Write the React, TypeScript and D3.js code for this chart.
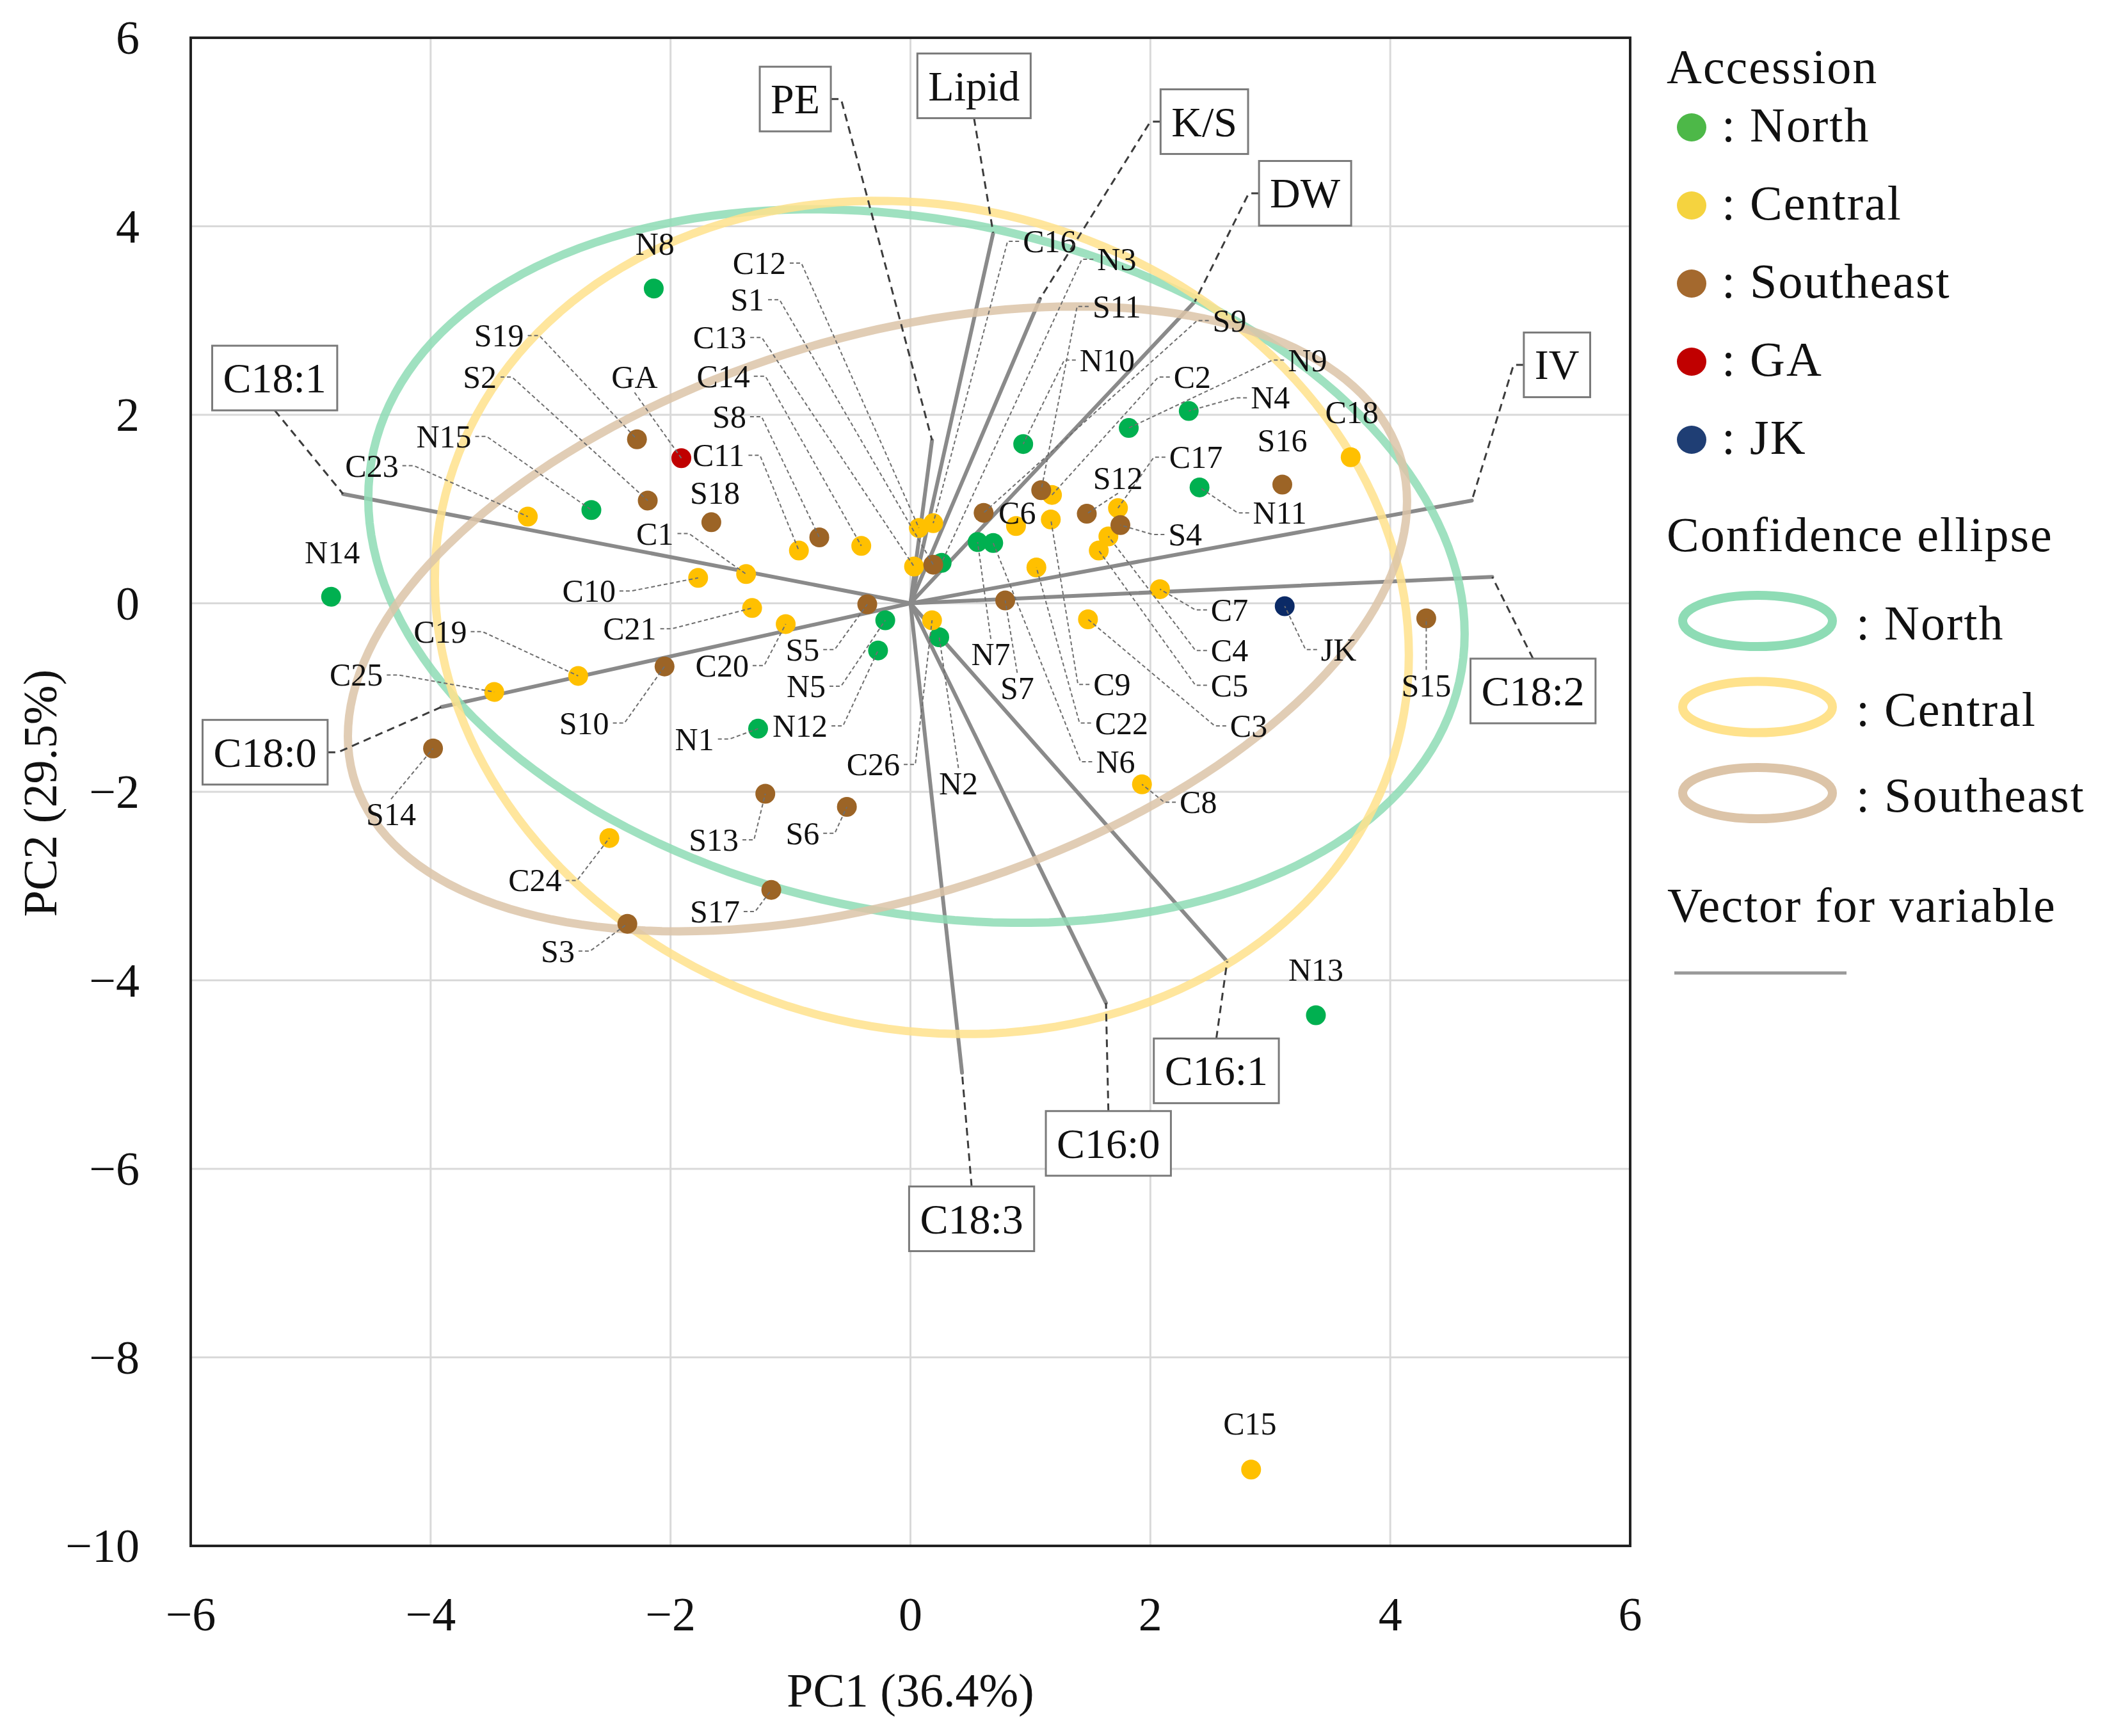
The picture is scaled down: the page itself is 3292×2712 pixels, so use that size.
import React, { useEffect, useRef } from "react";
import * as d3 from "d3";

// ---------- data ----------
const xTicks = [-6, -4, -2, 0, 2, 4, 6];
const yTicks = [-10, -8, -6, -4, -2, 0, 2, 4, 6];
const xTitle = "PC1 (36.4%)";
const yTitle = "PC2 (29.5%)";

const northPoints: [string, number, number][] = [
  ["N1", -1.27, -1.33], ["N2", 0.24, -0.36], ["N3", 0.26, 0.43], ["N4", 2.32, 2.04],
  ["N5", -0.21, -0.18], ["N6", 0.69, 0.64], ["N7", 0.56, 0.65], ["N8", -2.14, 3.34],
  ["N9", 1.82, 1.86], ["N10", 0.94, 1.69], ["N11", 2.41, 1.23], ["N12", -0.27, -0.5],
  ["N13", 3.38, -4.37], ["N14", -4.83, 0.07], ["N15", -2.66, 0.99],
];
const centralPoints: [string, number, number][] = [
  ["C1", -1.37, 0.31], ["C2", 1.18, 1.15], ["C3", 1.48, -0.17], ["C4", 1.65, 0.71],
  ["C5", 1.57, 0.56], ["C6", 0.88, 0.82], ["C7", 2.08, 0.15], ["C8", 1.93, -1.92],
  ["C9", 1.17, 0.89], ["C10", -1.77, 0.27], ["C11", -0.93, 0.56], ["C12", 0.07, 0.8],
  ["C13", 0.03, 0.39], ["C14", -0.41, 0.61], ["C15", 2.84, -9.19], ["C16", 0.19, 0.85],
  ["C17", 1.73, 1.01], ["C18", 3.67, 1.55], ["C19", -2.77, -0.77], ["C20", -1.04, -0.22],
  ["C21", -1.32, -0.05], ["C22", 1.05, 0.38], ["C23", -3.19, 0.92], ["C24", -2.51, -2.49],
  ["C25", -3.47, -0.94], ["C26", 0.18, -0.18],
];
const southeastPoints: [string, number, number][] = [
  ["S1", 0.19, 0.41], ["S2", -2.19, 1.09], ["S3", -2.36, -3.4], ["S4", 1.75, 0.83],
  ["S5", -0.36, -0.01], ["S6", -0.53, -2.16], ["S7", 0.79, 0.03], ["S8", -0.76, 0.7],
  ["S9", 0.61, 0.96], ["S10", -2.05, -0.67], ["S11", 1.09, 1.2], ["S12", 1.47, 0.95],
  ["S13", -1.21, -2.02], ["S14", -3.98, -1.54], ["S15", 4.3, -0.16], ["S16", 3.1, 1.26],
  ["S17", -1.16, -3.04], ["S18", -1.66, 0.86], ["S19", -2.28, 1.74],
];
const gaPoints: [string, number, number][] = [["GA", -1.91, 1.54]];
const jkPoints: [string, number, number][] = [["JK", 3.12, -0.03]];

const vectorNames = ["C18:1", "C18:0", "PE", "Lipid", "K/S", "DW", "IV", "C18:2", "C16:1", "C16:0", "C18:3"];
const vectorX = [-4.73, -3.91, 0.18, 0.69, 1.08, 2.37, 4.68, 4.85, 2.64, 1.63, 0.43];
const vectorY = [1.16, -1.1, 1.73, 3.93, 3.23, 3.2, 1.09, 0.28, -3.8, -4.24, -4.98];

const ellipseGroups = ["North", "Central", "Southeast"];
const ellipseCenterX = [0.05, 0.095, -0.275];
const ellipseCenterY = [0.395, -0.15, -0.165];
const ellipseHalfX = [4.57, 4.06, 4.415];
const ellipseHalfY = [3.785, 4.42, 3.315];
const ellipseCorr = [-0.19, -0.09, 0.376];

const legendGroups = ["North", "Central", "Southeast", "GA", "JK"];

// ---------- layout (label placement, in data units) ----------
const pointLabelPlace: Record<string, [number, number, string]> = {
  N1: [-1.8, -1.44, "r"], N2: [0.4, -1.91, "t"], N3: [1.72, 3.65, "l"], N4: [3.0, 2.18, "l"],
  N5: [-0.87, -0.88, "r"], N6: [1.71, -1.68, "l"], N7: [0.67, -0.54, "t"], N8: [-2.13, 3.81, "n"],
  N9: [3.31, 2.58, "l"], N10: [1.64, 2.58, "l"], N11: [3.08, 0.96, "l"], N12: [-0.92, -1.3, "r"],
  N13: [3.38, -3.89, "n"], N14: [-4.82, 0.54, "n"], N15: [-3.89, 1.77, "r"],
  C1: [-2.13, 0.74, "r"], C2: [2.35, 2.4, "l"], C3: [2.82, -1.3, "l"], C4: [2.66, -0.5, "l"],
  C5: [2.66, -0.87, "l"], C6: [0.89, 0.96, "n"], C7: [2.66, -0.07, "l"], C8: [2.4, -2.11, "l"],
  C9: [1.68, -0.86, "l"], C10: [-2.68, 0.13, "r"], C11: [-1.6, 1.57, "r"], C12: [-1.26, 3.61, "r"],
  C13: [-1.59, 2.82, "r"], C14: [-1.56, 2.41, "r"], C15: [2.83, -8.7, "n"], C16: [1.16, 3.84, "l"],
  C17: [2.38, 1.55, "l"], C18: [3.68, 2.03, "n"], C19: [-3.92, -0.3, "r"], C20: [-1.57, -0.66, "r"],
  C21: [-2.34, -0.27, "r"], C22: [1.76, -1.27, "l"], C23: [-4.49, 1.46, "r"], C24: [-3.13, -2.94, "r"],
  C25: [-4.62, -0.76, "r"], C26: [-0.31, -1.71, "r"],
  S1: [-1.36, 3.22, "r"], S2: [-3.59, 2.4, "r"], S3: [-2.94, -3.69, "r"], S4: [2.29, 0.73, "l"],
  S5: [-0.9, -0.49, "r"], S6: [-0.9, -2.44, "r"], S7: [0.89, -0.9, "t"], S8: [-1.51, 1.98, "r"],
  S9: [2.66, 3.0, "l"], S10: [-2.72, -1.27, "r"], S11: [1.72, 3.15, "l"], S12: [1.73, 1.33, "b"],
  S13: [-1.64, -2.51, "r"], S14: [-4.33, -2.24, "t"], S15: [4.3, -0.87, "t"], S16: [3.1, 1.73, "n"],
  S17: [-1.63, -3.27, "r"], S18: [-1.63, 1.17, "n"], S19: [-3.43, 2.84, "r"],
  GA: [-2.3, 2.4, "b"], JK: [3.57, -0.49, "l"],
};
const vectorLabelPlace: [number, number, string][] = [
  [-5.3, 2.39, "b"], [-5.38, -1.58, "r"], [-0.96, 5.35, "r"], [0.53, 5.49, "b"],
  [2.45, 5.11, "l"], [3.29, 4.35, "l"], [5.39, 2.53, "l"], [5.19, -0.93, "t"],
  [2.55, -4.96, "t"], [1.65, -5.73, "t"], [0.51, -6.53, "t"],
];

const pointColors: Record<string, string> = {
  North: "#00B050", Central: "#FFC000", Southeast: "#9C6426", GA: "#C00000", JK: "#0B2A66",
};
const legendDotColors: Record<string, string> = {
  North: "#4DB848", Central: "#F5D33F", Southeast: "#A4692E", GA: "#C00000", JK: "#1F3E74",
};
const ellipseColors: Record<string, string> = {
  North: "#8EDCB5", Central: "#FFE28C", Southeast: "#DCC4A8",
};

const FONT = "'Liberation Serif', 'Times New Roman', serif";

export default function App() {
  const ref = useRef<SVGSVGElement>(null);

  useEffect(() => {
    const svg = d3.select(ref.current);
    svg.selectAll("*").remove();
    const L = 298, R = 2547, T = 59, B = 2415;
    const x = d3.scaleLinear().domain([-6, 6]).range([L, R]);
    const y = d3.scaleLinear().domain([-10, 6]).range([B, T]);
    const fmt = d3.format("d");

    svg.append("rect").attr("width", 3292).attr("height", 2712).attr("fill", "#fff");

    // grid
    const grid = svg.append("g");
    grid.selectAll("line.gx").data(xTicks.slice(1, -1)).join("line")
      .attr("x1", (d) => x(d)).attr("x2", (d) => x(d)).attr("y1", T).attr("y2", B)
      .attr("stroke", "#d9d9d9").attr("stroke-width", 3);
    grid.selectAll("line.gy").data(yTicks.slice(1, -1)).join("line")
      .attr("y1", (d) => y(d)).attr("y2", (d) => y(d)).attr("x1", L).attr("x2", R)
      .attr("stroke", "#d9d9d9").attr("stroke-width", 3);

    // vectors
    const vec = svg.append("g");
    vectorNames.forEach((_, i) => {
      vec.append("line")
        .attr("x1", x(0)).attr("y1", y(0))
        .attr("x2", x(vectorX[i])).attr("y2", y(vectorY[i]))
        .attr("stroke", "#8a8a8a").attr("stroke-width", 6).attr("stroke-linecap", "round");
    });

    // ellipses
    const eg = svg.append("g");
    ellipseGroups.forEach((grp, i) => {
      const r = ellipseCorr[i];
      const s = Math.sqrt(1 - r * r);
      const pts: [number, number][] = d3.range(0, 360, 2).map((deg) => {
        const t = (deg * Math.PI) / 180;
        const px = ellipseCenterX[i] + ellipseHalfX[i] * Math.cos(t);
        const py = ellipseCenterY[i] + ellipseHalfY[i] * (r * Math.cos(t) + s * Math.sin(t));
        return [x(px), y(py)];
      });
      eg.append("path")
        .attr("d", d3.line().curve(d3.curveLinearClosed)(pts) as string)
        .attr("fill", "none").attr("stroke", ellipseColors[grp])
        .attr("stroke-width", 13).attr("stroke-opacity", 0.85);
    });

    // points
    const groups: [string, [string, number, number][]][] = [
      ["North", northPoints], ["Central", centralPoints], ["Southeast", southeastPoints],
      ["GA", gaPoints], ["JK", jkPoints],
    ];
    const pg = svg.append("g");
    groups.forEach(([grp, arr]) => {
      pg.selectAll(null).data(arr).join("circle")
        .attr("cx", (d) => x(d[1])).attr("cy", (d) => y(d[2])).attr("r", 15.5)
        .attr("fill", pointColors[grp]);
    });

    // point labels + leaders
    const lg = svg.append("g");
    const tg = svg.append("g");
    groups.forEach(([, arr]) => {
      arr.forEach((d) => {
        const place = pointLabelPlace[d[0]];
        if (!place) return;
        const cx = x(place[0]), cy = y(place[1]);
        const t = tg.append("text").attr("x", cx).attr("y", cy)
          .attr("text-anchor", "middle").attr("dominant-baseline", "central")
          .attr("font-family", FONT).attr("font-size", 50).attr("fill", "#111").text(d[0]);
        const w = (t.node() as SVGTextElement).getComputedTextLength();
        const px = x(d[1]), py = y(d[2]);
        const side = place[2];
        let path = "";
        if (side === "r") { const sx = cx + w / 2 + 6; path = `M${sx},${cy}L${sx + 18},${cy}L${px},${py}`; }
        else if (side === "l") { const sx = cx - w / 2 - 6; path = `M${sx},${cy}L${sx - 18},${cy}L${px},${py}`; }
        else if (side === "t") { const sy = cy - 24; path = `M${cx},${sy}L${px},${py}`; }
        else if (side === "b") { const sy = cy + 24; path = `M${cx},${sy}L${px},${py}`; }
        if (path) {
          lg.append("path").attr("d", path).attr("fill", "none")
            .attr("stroke", "#6e6e6e").attr("stroke-width", 2).attr("stroke-dasharray", "6 4");
        }
      });
    });

    // vector labels (boxes)
    const vg = svg.append("g");
    vectorNames.forEach((name, i) => {
      const [lx, ly, side] = vectorLabelPlace[i];
      const cx = x(lx), cy = y(ly);
      const leaderG = vg.append("g");
      const box = vg.append("rect");
      const t = vg.append("text").attr("x", cx).attr("y", cy)
        .attr("text-anchor", "middle").attr("dominant-baseline", "central")
        .attr("font-family", FONT).attr("font-size", 66).attr("fill", "#111").text(name);
      const w = (t.node() as SVGTextElement).getComputedTextLength() + 34;
      const h = 101;
      box.attr("x", cx - w / 2).attr("y", cy - h / 2).attr("width", w).attr("height", h)
        .attr("fill", "#fff").attr("stroke", "#7a7a7a").attr("stroke-width", 3);
      const ex = x(vectorX[i]), ey = y(vectorY[i]);
      let path = "";
      if (side === "r") { const sx = cx + w / 2; path = `M${sx},${cy}L${sx + 16},${cy}L${ex},${ey}`; }
      else if (side === "l") { const sx = cx - w / 2; path = `M${sx},${cy}L${sx - 16},${cy}L${ex},${ey}`; }
      else if (side === "t") { path = `M${cx},${cy - h / 2}L${ex},${ey}`; }
      else { path = `M${cx},${cy + h / 2}L${ex},${ey}`; }
      leaderG.append("path").attr("d", path).attr("fill", "none")
        .attr("stroke", "#3c3c3c").attr("stroke-width", 3).attr("stroke-dasharray", "12 8");
    });

    // frame
    svg.append("rect").attr("x", L).attr("y", T).attr("width", R - L).attr("height", B - T)
      .attr("fill", "none").attr("stroke", "#222").attr("stroke-width", 4);

    // tick labels
    const ax = svg.append("g").attr("font-family", FONT).attr("font-size", 74).attr("fill", "#111");
    ax.selectAll("text.xt").data(xTicks).join("text")
      .attr("x", (d) => x(d)).attr("y", 2522).attr("text-anchor", "middle")
      .attr("dominant-baseline", "central").text((d) => fmt(d));
    ax.selectAll("text.yt").data(yTicks).join("text")
      .attr("x", 218).attr("y", (d) => y(d)).attr("text-anchor", "end")
      .attr("dominant-baseline", "central").text((d) => fmt(d));
    ax.append("text").attr("x", x(0)).attr("y", 2641).attr("text-anchor", "middle")
      .attr("dominant-baseline", "central").text(xTitle);
    ax.append("text").attr("transform", `translate(63,${1239}) rotate(-90)`)
      .attr("text-anchor", "middle").attr("dominant-baseline", "central").text(yTitle);

    // legend
    const leg = svg.append("g").attr("font-family", FONT).attr("font-size", 76)
      .attr("letter-spacing", 2).attr("fill", "#111");
    leg.append("text").attr("x", 2604).attr("y", 130).text("Accession");
    legendGroups.forEach((grp, i) => {
      const cy = 199 + i * 122;
      leg.append("ellipse").attr("cx", 2643).attr("cy", cy).attr("rx", 23).attr("ry", 22)
        .attr("fill", legendDotColors[grp]);
      leg.append("text").attr("x", 2690).attr("y", cy + 22).text(`: ${grp}`);
    });
    leg.append("text").attr("x", 2604).attr("y", 861).text("Confidence ellipse");
    ellipseGroups.forEach((grp, i) => {
      const cy = 970 + i * 134.5;
      leg.append("ellipse").attr("cx", 2746).attr("cy", cy).attr("rx", 117).attr("ry", 40)
        .attr("fill", "none").attr("stroke", ellipseColors[grp]).attr("stroke-width", 14);
      leg.append("text").attr("x", 2900).attr("y", cy + 29).text(`: ${grp}`);
    });
    leg.append("text").attr("x", 2605).attr("y", 1440).text("Vector for variable");
    leg.append("line").attr("x1", 2616).attr("x2", 2885).attr("y1", 1520).attr("y2", 1520)
      .attr("stroke", "#999").attr("stroke-width", 5);
  }, []);

  return (
    <svg
      ref={ref}
      width={3292}
      height={2712}
      style={{ position: "absolute", left: 0, top: 0, display: "block" }}
    />
  );
}
